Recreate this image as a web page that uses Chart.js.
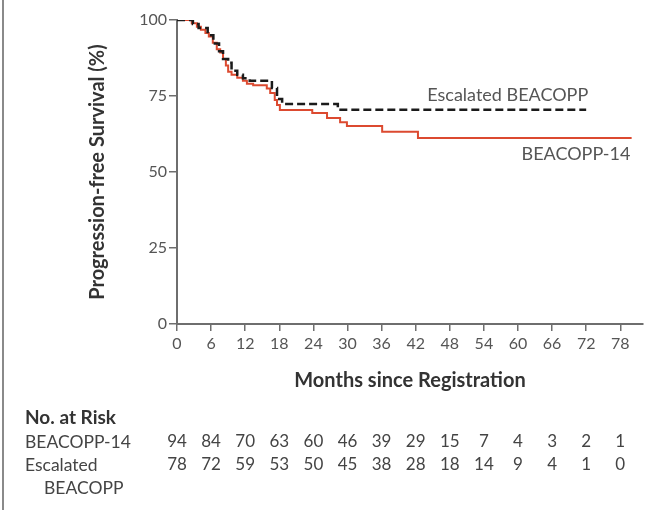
<!DOCTYPE html>
<html lang="en">
  <head>
    <meta charset="utf-8">
    <title>Progression-free Survival</title>
    <style>
      html, body { margin: 0; padding: 0; background: #fff; }
      #wrap { width: 646px; height: 512px; }
    </style>
  </head>
  <body>
    <div id="wrap"><canvas id="pfsChart" width="646" height="512"></canvas></div>

    <script src="https://cdn.jsdelivr.net/npm/chart.js@4.4.1/dist/chart.umd.min.js"></script>
    <script>
      // months since registration, survival in %
      const beacopp14 = [
        [0, 100], [2.6, 98.9], [3.5, 97.8], [4.2, 96.8], [5.0, 95.7], [5.6, 94.6],
        [6.3, 92.5], [7.0, 90.4], [7.6, 89.3], [8.1, 87.2], [8.6, 85.0], [9.0, 83.0],
        [9.6, 82.0], [10.6, 81.0], [11.6, 80.0], [12.3, 79.0], [13.4, 78.5],
        [15.8, 77.5], [16.4, 76.0], [17.2, 73.7], [17.6, 72.0], [18.1, 70.4],
        [23.8, 69.4], [26.4, 67.8], [28.7, 66.4], [29.9, 65.1], [36.1, 63.2],
        [42.4, 61.2], [80.0, 61.2]
      ];
      const escalated = [
        [0, 100], [2.8, 98.7], [3.8, 97.4], [5.4, 95.0], [6.4, 92.3], [7.4, 89.7],
        [8.1, 87.2], [9.0, 85.9], [9.6, 83.3], [10.6, 82.0], [11.6, 80.8],
        [12.8, 80.0], [16.7, 77.6], [17.6, 74.0], [18.5, 72.4], [28.3, 70.5],
        [72.0, 70.5]
      ];
      const xTicks = [0, 6, 12, 18, 24, 30, 36, 42, 48, 54, 60, 66, 72, 78];
      const yTicks = [0, 25, 50, 75, 100];
      const riskLabels = ['BEACOPP-14', ['Escalated', 'BEACOPP']];
      const riskB14 = [94, 84, 70, 63, 60, 46, 39, 29, 15, 7, 4, 3, 2, 1];
      const riskEsc = [78, 72, 59, 53, 50, 45, 38, 28, 18, 14, 9, 4, 1, 0];

      const FONT = 'Lato, "Open Sans", sans-serif';

      // curve labels + number-at-risk table + left frame line
      const extras = {
        id: 'extras',
        afterDraw(chart) {
          const ctx = chart.ctx;
          const xs = chart.scales.x;
          const ys = chart.scales.y;
          ctx.save();

          ctx.strokeStyle = '#8a8a8a';
          ctx.lineWidth = 2;
          ctx.beginPath();
          ctx.moveTo(3, 0);
          ctx.lineTo(3, 510);
          ctx.stroke();

          ctx.fillStyle = '#555';
          ctx.font = '18px ' + FONT;
          ctx.textBaseline = 'middle';
          ctx.textAlign = 'center';
          ctx.fillText('Escalated BEACOPP', xs.getPixelForValue(58.2), ys.getPixelForValue(75.3));
          ctx.fillText('BEACOPP-14', xs.getPixelForValue(70.2), ys.getPixelForValue(55.8));

          // number at risk
          ctx.fillStyle = '#333';
          ctx.textAlign = 'left';
          ctx.font = 'bold 19px ' + FONT;
          ctx.fillText('No. at Risk', 25, 418);
          ctx.fillStyle = '#444';
          ctx.font = '17.5px ' + FONT;
          ctx.fillText(riskLabels[0], 25, 442);
          ctx.fillText(riskLabels[1][0], 25, 465);
          ctx.fillText(riskLabels[1][1], 44, 488);
          ctx.font = '17px ' + FONT;
          ctx.textAlign = 'center';
          xTicks.forEach((t, i) => {
            const px = xs.getPixelForValue(t);
            ctx.fillText(String(riskB14[i]), px, 442);
            ctx.fillText(String(riskEsc[i]), px, 465);
          });
          ctx.restore();
        }
      };

      const ctx = document.getElementById('pfsChart');
      const pfsChart = new Chart(ctx, {
        type: 'line',
        data: {
          datasets: [
            {
              label: 'Escalated BEACOPP',
              data: escalated.map(p => ({ x: p[0], y: p[1] })),
              borderColor: '#1b1b1b',
              borderWidth: 2.5,
              borderDash: [8, 4],
              stepped: true,
              pointRadius: 0,
              fill: false
            },
            {
              label: 'BEACOPP-14',
              data: beacopp14.map(p => ({ x: p[0], y: p[1] })),
              borderColor: '#dc4a30',
              borderWidth: 2,
              stepped: true,
              pointRadius: 0,
              fill: false
            }
          ]
        },
        options: {
          responsive: false,
          animation: false,
          layout: { padding: { top: 20, right: 3, bottom: 0, left: 0 } },
          plugins: { legend: { display: false }, tooltip: { enabled: false } },
          scales: {
            x: {
              type: 'linear',
              min: 0,
              max: 82,
              afterBuildTicks: s => { s.ticks = xTicks.map(v => ({ value: v })); },
              afterFit: s => { s.height = 188; },
              border: { display: true, color: '#6e6e6e', width: 2 },
              grid: { drawOnChartArea: false, drawTicks: true, tickLength: 7, tickColor: '#6e6e6e', lineWidth: 1.5 },
              ticks: { color: '#555', font: { family: FONT, size: 16 }, padding: 3, maxRotation: 0, autoSkip: false },
              title: {
                display: true,
                text: 'Months since Registration',
                color: '#333',
                font: { family: FONT, size: 20, weight: 'bold' },
                padding: { top: 0, bottom: 119 }
              }
            },
            y: {
              min: 0,
              max: 100,
              afterBuildTicks: s => { s.ticks = yTicks.map(v => ({ value: v })); },
              afterFit: s => { s.width = 177; },
              border: { display: true, color: '#6e6e6e', width: 2 },
              grid: { drawOnChartArea: false, drawTicks: true, tickLength: 8, tickColor: '#6e6e6e', lineWidth: 1.5 },
              ticks: { color: '#555', font: { family: FONT, size: 16 }, padding: 2 },
              title: {
                display: true,
                text: 'Progression-free Survival (%)',
                color: '#333',
                font: { family: FONT, size: 20, weight: 'bold' },
                padding: { top: 86, bottom: 0 }
              }
            }
          }
        },
        plugins: [extras]
      });
    </script>
  </body>
</html>
